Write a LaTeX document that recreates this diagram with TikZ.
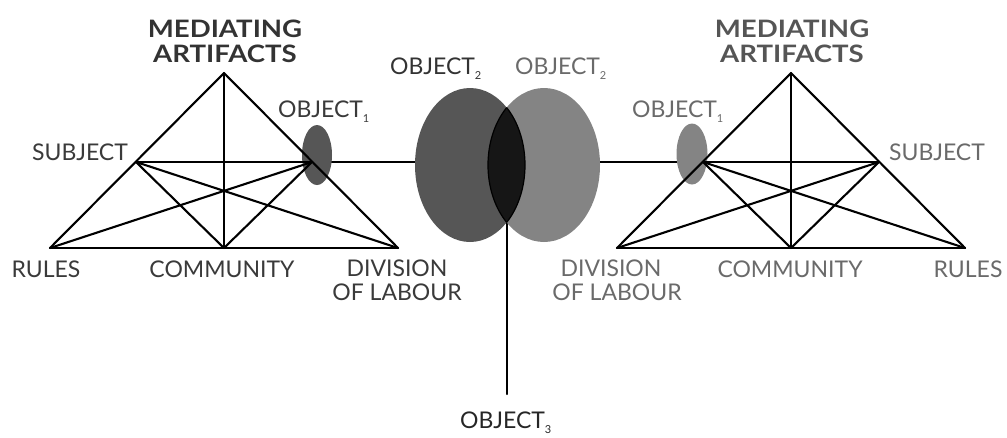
\documentclass[tikz,border=0pt]{standalone}
\usepackage{fontspec}
\setmainfont{Lato}
\definecolor{txtL}{HTML}{3A3A3A}
\definecolor{txtR}{HTML}{6A6A6A}
\definecolor{ttlL}{HTML}{333333}
\definecolor{ttlR}{HTML}{555555}
\definecolor{fillL}{HTML}{565656}
\definecolor{fillR}{HTML}{848484}
\definecolor{lens}{HTML}{161616}
\newcommand{\objsub}[1]{\raisebox{-5pt}{\fontsize{11}{11}\selectfont #1}}
\tikzset{
  lbl/.style={inner sep=0pt, font=\fontsize{23}{24}\selectfont},
  ldk/.style={lbl, text=txtL},
  lgr/.style={lbl, text=txtR},
  ttl/.style={inner sep=0pt, font=\fontsize{24}{25}\selectfont\bfseries},
  edge/.style={line width=2.1pt, line cap=round, line join=round, black}
}
\usetikzlibrary{shapes.geometric}
\begin{document}
\begin{tikzpicture}[x=1pt,y=-1pt]
\useasboundingbox (0,0) rectangle (1007,437);
% ---------- left triangle vertices
\coordinate (LA) at (224,73);
\coordinate (LS) at (136,162);
\coordinate (LO) at (312,162);
\coordinate (LR) at (50,248);
\coordinate (LC) at (224,248);
\coordinate (LD) at (398,248);
% ---------- right triangle vertices
\coordinate (RA) at (791,73);
\coordinate (RO) at (703,162);
\coordinate (RS) at (879,162);
\coordinate (RD) at (617,248);
\coordinate (RC) at (791,248);
\coordinate (RR) at (965,248);
% ---------- big object ellipses (positions only, drawn later)
\path (470,165) node[ellipse, minimum width=110pt, minimum height=154pt, inner sep=0pt] (bigL) {};
\path (544,165) node[ellipse, minimum width=112pt, minimum height=154pt, inner sep=0pt] (bigR) {};
\coordinate (lensB) at (507,222);
\coordinate (obj3end) at (507,394);
% ---------- connectors between systems
\draw[edge] (LO) -- (LO -| bigL.west);
\draw[edge] (bigR.east |- RO) -- (RO);
\draw[edge] (lensB) -- (obj3end);
% ---------- big ellipses
\fill[fillL] (470,165) ellipse [x radius=55, y radius=77];
\fill[fillR] (544,165) ellipse [x radius=56, y radius=77];
\begin{scope}
  \clip (470,165) ellipse [x radius=55, y radius=77];
  \fill[lens] (544,165) ellipse [x radius=56, y radius=77];
  \draw[black, line width=1.2pt] (544,165) ellipse [x radius=56, y radius=77];
\end{scope}
\begin{scope}
  \clip (544,165) ellipse [x radius=56, y radius=77];
  \draw[black, line width=1.2pt] (470,165) ellipse [x radius=55, y radius=77];
\end{scope}
% ---------- small object ellipses
\node[ellipse, fill=fillL, minimum width=30pt, minimum height=60pt, inner sep=0pt] (o1L) at (317,155) {};
\node[ellipse, fill=fillR, minimum width=31pt, minimum height=61pt, inner sep=0pt] (o1R) at (692,154) {};
% ---------- left triangle edges
\draw[edge] (LA) -- (LR);
\draw[edge] (LA) -- (LD);
\draw[edge] (LA) -- (LC);
\draw[edge] (LR) -- (LD);
\draw[edge] (LS) -- (LO);
\draw[edge] (LS) -- (LC);
\draw[edge] (LS) -- (LD);
\draw[edge] (LO) -- (LC);
\draw[edge] (LO) -- (LR);
% ---------- right triangle edges
\draw[edge] (RA) -- (RD);
\draw[edge] (RA) -- (RR);
\draw[edge] (RA) -- (RC);
\draw[edge] (RD) -- (RR);
\draw[edge] (RO) -- (RS);
\draw[edge] (RO) -- (RC);
\draw[edge] (RO) -- (RR);
\draw[edge] (RS) -- (RC);
\draw[edge] (RS) -- (RD);
% ---------- left labels
\node[ttl, text=ttlL, anchor=base] (medL1) at (225,37) {\scalebox{1.15}[1]{MEDIATING}};
\node[ttl, text=ttlL, anchor=base] (medL2) at (225,62) {\scalebox{1.15}[1]{ARTIFACTS}};
\node[ldk, anchor=base] (subL) at (80,160) {SUBJECT};
\node[ldk, anchor=base west] (objL1) at (278,117) {OBJECT\objsub{1}};
\node[ldk, anchor=base] (rulL) at (46,277) {RULES};
\node[ldk, anchor=base] (comL) at (222,277) {COMMUNITY};
\node[ldk, anchor=base] (divL1) at (397,276) {DIVISION};
\node[ldk, anchor=base] (divL2) at (397,300) {OF LABOUR};
\node[ldk, anchor=base west, text=ttlL] (obj2L) at (390,74) {OBJECT\objsub{2}};
% ---------- right labels
\node[ttl, text=ttlR, anchor=base] (medR1) at (792,37) {\scalebox{1.15}[1]{MEDIATING}};
\node[ttl, text=ttlR, anchor=base] (medR2) at (792,62) {\scalebox{1.15}[1]{ARTIFACTS}};
\node[lgr, anchor=base] (subR) at (937,160) {SUBJECT};
\node[lgr, anchor=base west] (objR1) at (632,117) {OBJECT\objsub{1}};
\node[lgr, anchor=base] (rulR) at (968,277) {RULES};
\node[lgr, anchor=base] (comR) at (790,277) {COMMUNITY};
\node[lgr, anchor=base] (divR1) at (611,276) {DIVISION};
\node[lgr, anchor=base] (divR2) at (617,300) {OF LABOUR};
\node[lgr, anchor=base west] (obj2R) at (515,74) {OBJECT\objsub{2}};
% ---------- object 3
\node[lbl, text=black!85, anchor=base west] (obj3) at (460,428) {OBJECT\objsub{3}};
\end{tikzpicture}
\end{document}
